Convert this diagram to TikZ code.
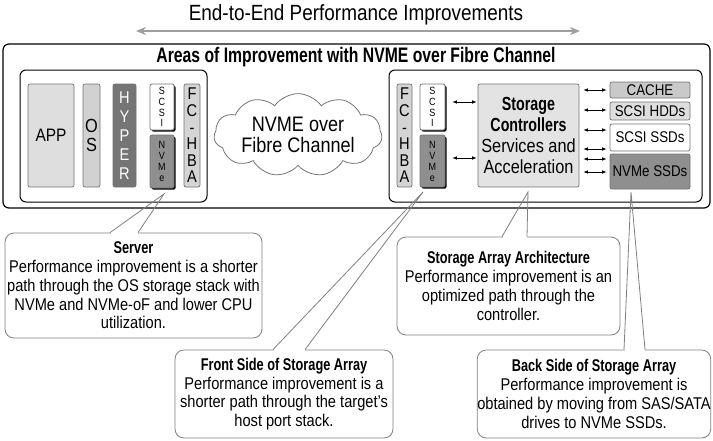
\documentclass[tikz,border=0pt]{standalone}
\usepackage{fontspec}
\setmainfont{Liberation Sans}[FakeStretch=0.86,BoldFeatures={FakeStretch=0.75}]
\usetikzlibrary{shapes.symbols,shadows,arrows.meta}

\definecolor{edgegray}{gray}{0.45}
\definecolor{notegray}{gray}{0.5}
\definecolor{spangray}{gray}{0.62}
\definecolor{appfill}{gray}{0.87}
\definecolor{osfill}{gray}{0.82}
\definecolor{hyperfill}{gray}{0.46}
\definecolor{nvmefill}{gray}{0.56}
\definecolor{hbafill}{gray}{0.83}
\definecolor{ctrlfill}{gray}{0.89}
\definecolor{cachefill}{gray}{0.79}
\definecolor{hddfill}{gray}{0.87}

\newcommand{\fsz}[2]{\fontsize{#1}{#2}\selectfont}

\begin{document}
\begin{tikzpicture}[x=1pt,y=-1pt,
  frame/.style={draw=black,line width=1pt,rounded corners=6pt},
  part/.style={draw=edgegray,line width=0.7pt,rounded corners=2pt,inner sep=0pt,align=center},
  shadowed/.style={drop shadow={shadow xshift=1.6pt,shadow yshift=-1.6pt,fill=black,opacity=1}},
  link/.style={<->,>={Latex[length=4.5pt,width=3.5pt]},line width=0.7pt},
  callout/.style={draw=notegray,line width=0.8pt,rounded corners=9pt,fill=white,align=center,inner sep=0pt,font=\fsz{17}{18.8}},
  pointer/.style={draw=notegray,line width=0.8pt}]
\useasboundingbox (0,0) rectangle (713,440);

% heading and span arrow
\node (title) at (356,15) {\fsz{22}{24}End-to-End Performance Improvements};
\coordinate (spanL) at (136,31);
\coordinate (spanR) at (580,31);
\draw[spangray,line width=2pt,{Stealth[length=10pt,width=8pt]}-{Stealth[length=10pt,width=8pt]}] (spanL) -- (spanR);

% outer frame
\node[frame,line width=1.2pt,minimum width=707pt,minimum height=164pt] (areas) at (356.5,126) {};
\node[font=\bfseries\fsz{21}{22}] (areashead) at (356,57) {Areas of Improvement with NVME over Fibre Channel};

% server side
\node[frame,minimum width=187pt,minimum height=132pt] (server) at (113.5,136) {};
\node[part,fill=appfill,minimum width=46pt,minimum height=103pt,font=\fsz{18}{20}] (app) at (51,135.5) {APP};
\node[part,fill=osfill,minimum width=17pt,minimum height=103pt,font=\fsz{19}{19}] (os) at (91.5,135.5) {O\\S};
\node[part,fill=hyperfill,text=white,minimum width=23pt,minimum height=103pt,font=\fsz{17}{19}] (hyper) at (124.5,135.5) {H\\Y\\P\\E\\R};
\node[part,shadowed,fill=white,minimum width=24pt,minimum height=46pt,font=\fsz{10.5}{10.8}] (lscsi) at (162,107) {S\\C\\S\\I};
\node[part,shadowed,fill=nvmefill,minimum width=24pt,minimum height=53pt,font=\fsz{10.5}{11}] (lnvme) at (162,161.5) {N\\V\\M\\e};
\node[part,fill=hbafill,minimum width=16pt,minimum height=103pt,font=\fsz{17}{16.6}] (lhba) at (192,135.5) {F\\C\\-\\H\\B\\A};

% fabric
\node[cloud,cloud puffs=11,cloud puff arc=110,aspect=2.6,draw=edgegray,line width=0.8pt,
  minimum width=168pt,minimum height=66pt,inner sep=0pt,align=center,font=\fsz{21}{21}] (fabric) at (298,135) {NVME over\\Fibre Channel};

% storage array side
\node[frame,minimum width=313pt,minimum height=132pt] (array) at (545.5,136) {};
\node[part,fill=hbafill,minimum width=15pt,minimum height=103pt,font=\fsz{17}{16.6}] (rhba) at (404.5,135.5) {F\\C\\-\\H\\B\\A};
\node[part,shadowed,fill=white,minimum width=25pt,minimum height=46pt,font=\fsz{10.5}{10.8}] (rscsi) at (432.5,107) {S\\C\\S\\I};
\node[part,shadowed,fill=nvmefill,minimum width=25pt,minimum height=52pt,font=\fsz{10.5}{11}] (rnvme) at (432.5,161) {N\\V\\M\\e};
\node[part,fill=ctrlfill,minimum width=101pt,minimum height=103pt,font=\fsz{19}{21}] (ctrl) at (528.5,135.5)
  {\textbf{Storage}\\\textbf{Controllers}\\Services and\\Acceleration};
\node[part,fill=cachefill,minimum width=80pt,minimum height=16pt,font=\fsz{15.5}{16}] (cache) at (650,90) {CACHE};
\node[part,fill=hddfill,minimum width=80pt,minimum height=18pt,font=\fsz{15.5}{16}] (hdd) at (650,111) {SCSI HDDs};
\node[part,fill=white,minimum width=80pt,minimum height=27pt,font=\fsz{15.5}{16}] (sssd) at (650,137.5) {SCSI SSDs};
\node[part,fill=nvmefill,minimum width=80pt,minimum height=35pt,font=\fsz{15.5}{16}] (nssd) at (650,171.5) {NVMe SSDs};

\draw[link,shorten <=7pt,shorten >=1pt] (rscsi.east |- 0,102) -- (ctrl.west |- 0,102);
\draw[link,shorten <=7pt,shorten >=1pt] (rnvme.east |- 0,158) -- (ctrl.west |- 0,158);
\foreach \y/\tgt in {90/cache,110/hdd,130/sssd,149/sssd,159/nssd,172/nssd}
  \draw[link,shorten <=4pt,shorten >=3pt] (ctrl.east |- 0,\y) -- (\tgt.west |- 0,\y);

% callouts
\node[callout,minimum width=257pt,minimum height=105pt] (srvnote) at (133.5,285.5)
  {\textbf{Server}\\Performance improvement is a shorter\\path through the OS storage stack with\\NVMe and NVMe-oF and lower CPU\\utilization.};
\node[callout,minimum width=218pt,minimum height=88pt] (frontnote) at (284,394)
  {\textbf{Front Side of Storage Array}\\Performance improvement is a\\shorter path through the target's\\host port stack.};
\node[callout,minimum width=223pt,minimum height=98pt] (archnote) at (508.5,286)
  {\textbf{Storage Array Architecture}\\Performance improvement is an\\optimized path through the\\controller.};
\node[callout,minimum width=232pt,minimum height=88pt] (backnote) at (594,394)
  {\textbf{Back Side of Storage Array}\\Performance improvement is\\obtained by moving from SAS/SATA\\drives to NVMe SSDs.};

\coordinate (srvtip) at (164,194);
\coordinate (fronttip) at (423,192);
\coordinate (archtip) at (528,192);
\coordinate (backtip) at (631,192);
\foreach \nt/\tp/\xa/\xb in {srvnote/srvtip/110/138,frontnote/fronttip/273/305,archnote/archtip/502/527,backnote/backtip/624/645}{
  \draw[white,line width=2pt] (\nt.north -| \xa+0.5,0) -- (\nt.north -| \xb-0.5,0);
  \draw[pointer] (\nt.north -| \xa,0) -- (\tp) -- (\nt.north -| \xb,0);
}
\end{tikzpicture}
\end{document}
